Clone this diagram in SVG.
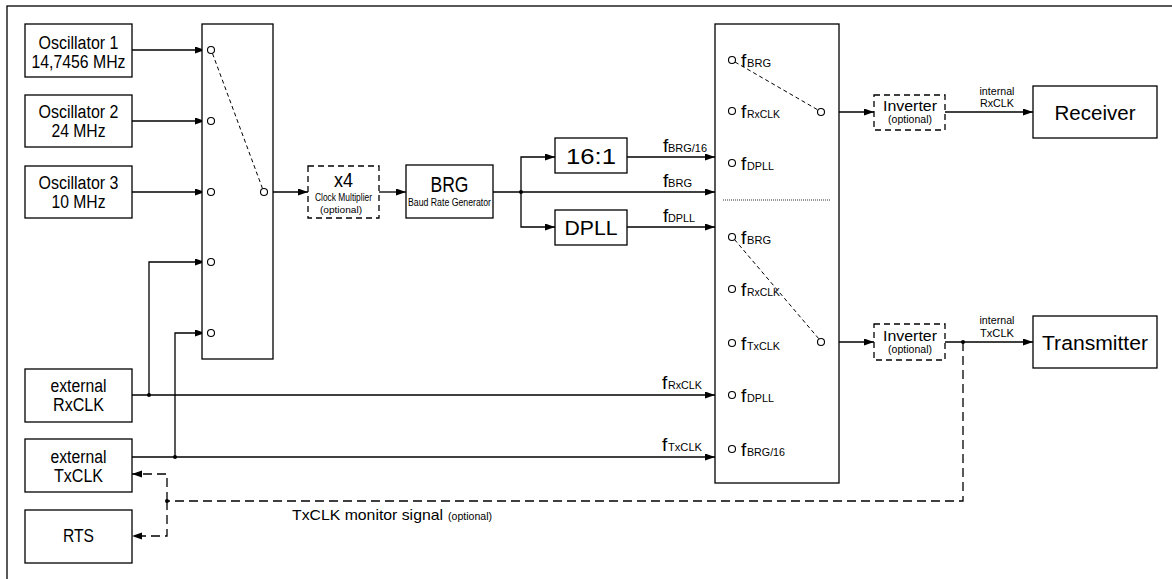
<svg xmlns="http://www.w3.org/2000/svg" width="1172" height="579" viewBox="0 0 1172 579">
<style>
.box{fill:#fff;stroke:#000;stroke-width:1.3}
.dbox{fill:#fff;stroke:#000;stroke-width:1.3;stroke-dasharray:6 4}
.ln{fill:none;stroke:#000;stroke-width:1.3}
.dl{fill:none;stroke:#000;stroke-width:1.3;stroke-dasharray:9 5}
.sw{fill:none;stroke:#000;stroke-width:1;stroke-dasharray:4 3}
.pin{fill:#fff;stroke:#000;stroke-width:1.1}
.dot{fill:#000}
text{font-family:"Liberation Sans",Arial,sans-serif;fill:#000}
.t{font-size:18px;text-anchor:middle}
.s{font-size:10.5px;text-anchor:middle}
.f{font-size:19px}
.sub{font-size:10.5px}
</style>
<defs>
<marker id="ar" markerUnits="userSpaceOnUse" markerWidth="10" markerHeight="8" refX="10" refY="3.5" orient="auto">
<path d="M0,0 L10,3.5 L0,7 z" fill="#000"/>
</marker>
</defs>
<rect x="7" y="6" width="1180" height="590" fill="none" stroke="#000" stroke-width="1.3"/>

<g id="connectors">
<path class="ln" d="M132,50 H205" marker-end="url(#ar)"/>
<path class="ln" d="M132,121 H205" marker-end="url(#ar)"/>
<path class="ln" d="M132,192 H205" marker-end="url(#ar)"/>
<path class="ln" d="M149,395 V262 H205" marker-end="url(#ar)"/>
<path class="ln" d="M175,457 V333 H205" marker-end="url(#ar)"/>
<path class="ln" d="M267.5,192 H308" marker-end="url(#ar)"/>
<path class="ln" d="M379,192 H406" marker-end="url(#ar)"/>
<path class="ln" d="M493,192 H715" marker-end="url(#ar)"/>
<path class="ln" d="M521,192 V157 H555" marker-end="url(#ar)"/>
<path class="ln" d="M521,192 V227 H555" marker-end="url(#ar)"/>
<path class="ln" d="M627,157 H715" marker-end="url(#ar)"/>
<path class="ln" d="M627,227 H715" marker-end="url(#ar)"/>
<path class="ln" d="M132,395 H715" marker-end="url(#ar)"/>
<path class="ln" d="M132,457 H715" marker-end="url(#ar)"/>
<path class="ln" d="M824.5,112 H874" marker-end="url(#ar)"/>
<path class="ln" d="M945,112 H1033" marker-end="url(#ar)"/>
<path class="ln" d="M824.5,342 H874" marker-end="url(#ar)"/>
<path class="ln" d="M945,342 H1033" marker-end="url(#ar)"/>
<path class="dl" d="M963,342 V501 H167"/>
<path class="dl" d="M167,501 V474 H132" marker-end="url(#ar)"/>
<path class="dl" d="M167,501 V536 H132" marker-end="url(#ar)"/>
<circle class="dot" cx="521" cy="192" r="2"/>
<circle class="dot" cx="149" cy="395" r="2"/>
<circle class="dot" cx="175" cy="457" r="2"/>
<circle class="dot" cx="963" cy="342" r="2"/>
<circle class="dot" cx="167" cy="501" r="2"/>
<text x="292" y="520" style="font-size:15px" textLength="151" lengthAdjust="spacingAndGlyphs">TxCLK monitor signal</text>
<text x="448" y="520" style="font-size:10px" textLength="44" lengthAdjust="spacingAndGlyphs">(optional)</text>
<text class="f" x="663" y="152">f</text><text class="sub" x="668" y="152" textLength="39" lengthAdjust="spacingAndGlyphs">BRG/16</text>
<text class="f" x="663" y="187">f</text><text class="sub" x="668" y="187" textLength="24" lengthAdjust="spacingAndGlyphs">BRG</text>
<text class="f" x="663" y="222">f</text><text class="sub" x="668" y="222" textLength="27" lengthAdjust="spacingAndGlyphs">DPLL</text>
<text class="f" x="662" y="389">f</text><text class="sub" x="668" y="389" textLength="34" lengthAdjust="spacingAndGlyphs">RxCLK</text>
<text class="f" x="662" y="451">f</text><text class="sub" x="668" y="451" textLength="34" lengthAdjust="spacingAndGlyphs">TxCLK</text>
<text class="s" x="997" y="95" textLength="35" lengthAdjust="spacingAndGlyphs">internal</text>
<text class="s" x="997" y="107" textLength="34" lengthAdjust="spacingAndGlyphs">RxCLK</text>
<text class="s" x="997" y="324" textLength="35" lengthAdjust="spacingAndGlyphs">internal</text>
<text class="s" x="997" y="337" textLength="34" lengthAdjust="spacingAndGlyphs">TxCLK</text>
</g>

<g id="osc1"><rect class="box" x="25" y="24" width="107" height="53"/>
<text class="t" x="78.5" y="49" textLength="80" lengthAdjust="spacingAndGlyphs">Oscillator 1</text>
<text class="t" x="78.5" y="68" textLength="94" lengthAdjust="spacingAndGlyphs">14,7456 MHz</text></g>
<g id="osc2"><rect class="box" x="25" y="95" width="107" height="52"/>
<text class="t" x="78.5" y="118" textLength="80" lengthAdjust="spacingAndGlyphs">Oscillator 2</text>
<text class="t" x="78.5" y="137" textLength="54" lengthAdjust="spacingAndGlyphs">24 MHz</text></g>
<g id="osc3"><rect class="box" x="25" y="166" width="107" height="52"/>
<text class="t" x="78.5" y="188.5" textLength="80" lengthAdjust="spacingAndGlyphs">Oscillator 3</text>
<text class="t" x="78.5" y="207.5" textLength="54" lengthAdjust="spacingAndGlyphs">10 MHz</text></g>
<g id="extrx"><rect class="box" x="25" y="369" width="107" height="53"/>
<text class="t" x="78.5" y="391.5" textLength="56" lengthAdjust="spacingAndGlyphs">external</text>
<text class="t" x="78.5" y="410.5" textLength="51" lengthAdjust="spacingAndGlyphs">RxCLK</text></g>
<g id="exttx"><rect class="box" x="25" y="439" width="107" height="53"/>
<text class="t" x="78.5" y="462.5" textLength="56" lengthAdjust="spacingAndGlyphs">external</text>
<text class="t" x="78.5" y="481.5" textLength="49" lengthAdjust="spacingAndGlyphs">TxCLK</text></g>
<g id="rts"><rect class="box" x="25" y="510" width="107" height="53"/>
<text class="t" x="78.5" y="541.5" textLength="31" lengthAdjust="spacingAndGlyphs">RTS</text></g>

<g id="mux1"><rect class="box" x="202" y="24" width="71" height="335"/>
<path class="sw" d="M212.5,53.5 L262.5,188.5"/>
<circle class="pin" cx="211" cy="50" r="3.5"/>
<circle class="pin" cx="211" cy="121" r="3.5"/>
<circle class="pin" cx="211" cy="192" r="3.5"/>
<circle class="pin" cx="211" cy="262" r="3.5"/>
<circle class="pin" cx="211" cy="333" r="3.5"/>
<circle class="pin" cx="264" cy="192" r="3.5"/></g>

<g id="x4"><rect class="dbox" x="308" y="166" width="71" height="52"/>
<text x="343.5" y="187" style="font-size:20px;text-anchor:middle" textLength="19" lengthAdjust="spacingAndGlyphs">x4</text>
<text class="s" x="343.5" y="201" textLength="57" lengthAdjust="spacingAndGlyphs">Clock Multiplier</text>
<text class="s" x="341" y="212.5" style="font-size:9.5px" textLength="42" lengthAdjust="spacingAndGlyphs">(optional)</text></g>

<g id="brg"><rect class="box" x="406" y="165" width="87" height="53"/>
<text x="449.5" y="192" style="font-size:22px;text-anchor:middle" textLength="38" lengthAdjust="spacingAndGlyphs">BRG</text>
<text class="s" x="449.5" y="206" style="font-size:10px" textLength="83" lengthAdjust="spacingAndGlyphs">Baud Rate Generator</text></g>

<g id="div16"><rect class="box" x="555" y="138" width="72" height="35"/>
<text x="591" y="164" style="font-size:22px;text-anchor:middle" textLength="50" lengthAdjust="spacingAndGlyphs">16:1</text></g>
<g id="dpll"><rect class="box" x="555" y="210" width="72" height="35"/>
<text x="591" y="235" style="font-size:21px;text-anchor:middle" textLength="53" lengthAdjust="spacingAndGlyphs">DPLL</text></g>

<g id="mux2"><rect class="box" x="715" y="24" width="124" height="459"/>
<path d="M723,200 H830" stroke="#333" stroke-width="1" stroke-dasharray="1 1" fill="none"/>
<path class="sw" d="M735,62 L818,110"/>
<path class="sw" d="M734.5,239.5 L819,339"/>
<circle class="pin" cx="732" cy="60" r="3.5"/>
<circle class="pin" cx="732" cy="111" r="3.5"/>
<circle class="pin" cx="732" cy="163" r="3.5"/>
<circle class="pin" cx="732" cy="237" r="3.5"/>
<circle class="pin" cx="732" cy="289" r="3.5"/>
<circle class="pin" cx="732" cy="343" r="3.5"/>
<circle class="pin" cx="732" cy="395" r="3.5"/>
<circle class="pin" cx="732" cy="449" r="3.5"/>
<circle class="pin" cx="821" cy="112" r="3.5"/>
<circle class="pin" cx="821" cy="342" r="3.5"/>
<text class="f" x="741" y="66.5">f</text><text class="sub" x="747" y="66.5" textLength="24" lengthAdjust="spacingAndGlyphs">BRG</text>
<text class="f" x="741" y="117.5">f</text><text class="sub" x="747" y="117.5" textLength="33" lengthAdjust="spacingAndGlyphs">RxCLK</text>
<text class="f" x="741" y="169.5">f</text><text class="sub" x="747" y="169.5" textLength="27" lengthAdjust="spacingAndGlyphs">DPLL</text>
<text class="f" x="741" y="243.5">f</text><text class="sub" x="747" y="243.5" textLength="24" lengthAdjust="spacingAndGlyphs">BRG</text>
<text class="f" x="741" y="295.5">f</text><text class="sub" x="747" y="295.5" textLength="33" lengthAdjust="spacingAndGlyphs">RxCLK</text>
<text class="f" x="741" y="349.5">f</text><text class="sub" x="747" y="349.5" textLength="33" lengthAdjust="spacingAndGlyphs">TxCLK</text>
<text class="f" x="741" y="401.5">f</text><text class="sub" x="747" y="401.5" textLength="27" lengthAdjust="spacingAndGlyphs">DPLL</text>
<text class="f" x="741" y="455.5">f</text><text class="sub" x="747" y="455.5" textLength="38" lengthAdjust="spacingAndGlyphs">BRG/16</text></g>

<g id="inv1"><rect class="dbox" x="874" y="95" width="71" height="35"/>
<text x="910" y="111" style="font-size:15px;text-anchor:middle" textLength="54" lengthAdjust="spacingAndGlyphs">Inverter</text>
<text class="s" x="910" y="123" style="font-size:10px" textLength="44" lengthAdjust="spacingAndGlyphs">(optional)</text></g>
<g id="inv2"><rect class="dbox" x="874" y="324" width="71" height="36"/>
<text x="910" y="340.5" style="font-size:15px;text-anchor:middle" textLength="54" lengthAdjust="spacingAndGlyphs">Inverter</text>
<text class="s" x="910" y="353" style="font-size:10px" textLength="44" lengthAdjust="spacingAndGlyphs">(optional)</text></g>

<g id="receiver"><rect class="box" x="1033" y="86" width="124" height="52"/>
<text x="1095" y="120" style="font-size:20px;text-anchor:middle" textLength="81" lengthAdjust="spacingAndGlyphs">Receiver</text></g>
<g id="transmitter"><rect class="box" x="1033" y="316" width="124" height="52"/>
<text x="1095" y="350" style="font-size:20.5px;text-anchor:middle" textLength="106" lengthAdjust="spacingAndGlyphs">Transmitter</text></g>
</svg>
